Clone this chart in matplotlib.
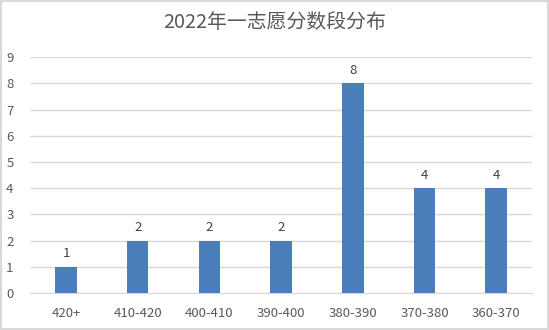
import matplotlib.pyplot as plt
from matplotlib.patches import Rectangle

plt.rcParams['font.family'] = ['Noto Sans CJK SC', 'DejaVu Sans']

categories = ['420+', '410-420', '400-410', '390-400', '380-390', '370-380', '360-370']
counts = [1, 2, 2, 2, 8, 4, 4]
title = '2022年一志愿分数段分布'

text_color = '#595959'
bar_color = '#4a7ebb'

fig = plt.figure(figsize=(5.49, 3.30), dpi=100)
ax = fig.add_axes([0.055, 0.112, 0.914, 0.715])

x = range(len(categories))
bars = ax.bar(x, counts, width=0.3, color=bar_color, zorder=3)
ax.set_xlim(-0.5, len(categories) - 0.5)
ax.set_ylim(0, 9)
ax.set_yticks(range(10))
ax.set_xticks(list(x))
ax.set_xticklabels(categories)
ax.yaxis.grid(True, color='#d9d9d9', linewidth=1, zorder=0)
for s in ['top', 'right', 'left']:
    ax.spines[s].set_visible(False)
ax.spines['bottom'].set_color('#d9d9d9')
ax.tick_params(axis='both', length=0, labelsize=9.5, colors=text_color)
ax.tick_params(axis='x', pad=10)
ax.tick_params(axis='y', pad=12)

for bar, v in zip(bars, counts):
    ax.text(bar.get_x() + bar.get_width() / 2, v + 0.25, str(v),
            ha='center', va='bottom', fontsize=9.5, color='#404040')

fig.text(0.5, 0.933, title, ha='center', va='center', fontsize=14.3, color=text_color)

fig.patches.append(Rectangle((0.002, 0.003), 0.996, 0.994, transform=fig.transFigure,
                             fill=False, edgecolor='#d9d9d9', linewidth=1.5))

fig.savefig('out.png', dpi=100)
